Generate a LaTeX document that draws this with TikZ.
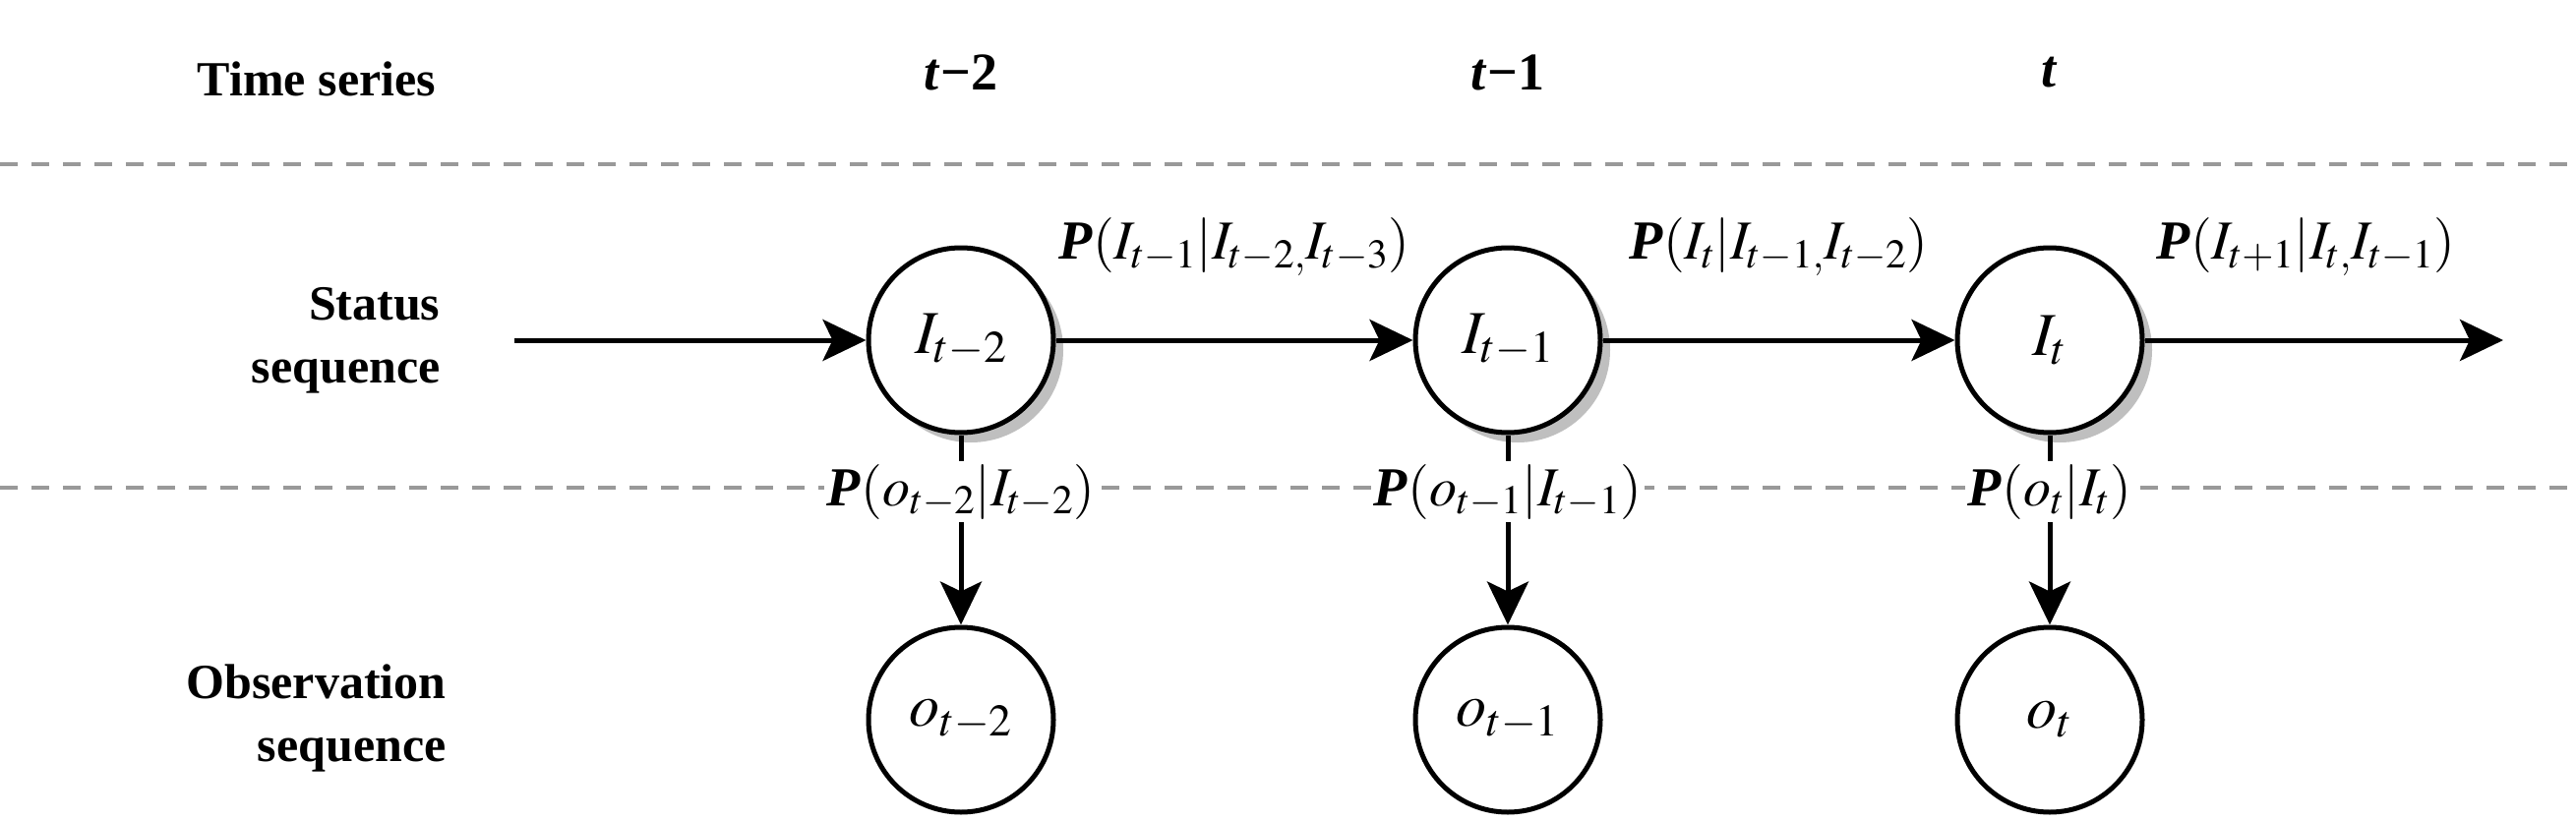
\documentclass[tikz,border=0pt]{standalone}
\usepackage{mathptmx}
\usepackage{fontspec}
\setmainfont{Liberation Serif}
\usetikzlibrary{arrows.meta,shadows}
\newcommand{\bP}{\textbf{\textit{P}}}
\begin{document}
\begin{tikzpicture}[x=1pt,y=-1pt,
  st/.style={circle,draw,line width=5pt,minimum size=188pt,inner sep=0pt,fill=white,font=\fontsize{62}{68}\selectfont},
  shd/.style={drop shadow={shadow xshift=10pt,shadow yshift=-10pt,fill=black!25,opacity=1}},
  hd/.style={font=\fontsize{50}{64}\selectfont\bfseries},
  lab/.style={font=\fontsize{56}{62}\selectfont},
  arr/.style={line width=5pt,-{Stealth[length=44pt,width=42pt,inset=10pt]}},
  dsh/.style={line width=4pt,black!40,dash pattern=on 18pt off 14pt}]
\useasboundingbox (0,0) rectangle (2619,835);
\draw[dsh] (0,167) -- (2619,167);
\draw[dsh] (0,496) -- (2619,496);
\node[hd] (ts) at (322,80) {Time series};
\node[hd,font=\fontsize{54}{60}\selectfont\bfseries] (h2) at (977,74) {\textit{t}\textbf{−}2};
\node[hd,font=\fontsize{54}{60}\selectfont\bfseries] (h1) at (1533,74) {\textit{t}\textbf{−}1};
\node[hd,font=\fontsize{54}{60}\selectfont\bfseries] (h0) at (2084,74) {\textit{t}};
\node[hd,align=right,anchor=east] (ss) at (451,346) {Status\\sequence};
\node[hd,align=right,anchor=east] (os) at (457,730) {Observation\\sequence};
\node[st,shd] (I2) at (977,346) {$I_{t-2}$};
\node[st,shd] (I1) at (1533,346) {$I_{t-1}$};
\node[st,shd] (I0) at (2084,346) {$I_{t}$};
\node[st] (o2) at (977,732) {$o_{t-2}$};
\node[st] (o1) at (1533,732) {$o_{t-1}$};
\node[st] (o0) at (2084,732) {$o_{t}$};
\coordinate (s) at (523,346);
\coordinate (e) at (2545,346);
\draw[arr] (s) -- (I2);
\draw[arr] (I2) -- node[lab,above=60pt,pos=0.5] {\bP$(I_{t-1}|I_{t-2,}I_{t-3})$} (I1);
\draw[arr] (I1) -- node[lab,above=60pt,pos=0.5] {\bP$(I_{t}|I_{t-1,}I_{t-2})$} (I0);
\draw[arr] (I0) -- node[lab,above=60pt,pos=0.45] {\bP$(I_{t+1}|I_{t,}I_{t-1})$} (e);
\draw[arr] (I2) -- node[lab,fill=white,pos=0.3,inner sep=3pt] {\bP$(o_{t-2}|I_{t-2})$} (o2);
\draw[arr] (I1) -- node[lab,fill=white,pos=0.3,inner sep=3pt] {\bP$(o_{t-1}|I_{t-1})$} (o1);
\draw[arr] (I0) -- node[lab,fill=white,pos=0.3,inner sep=3pt] {\bP$(o_{t}|I_{t})$} (o0);
\end{tikzpicture}
\end{document}
